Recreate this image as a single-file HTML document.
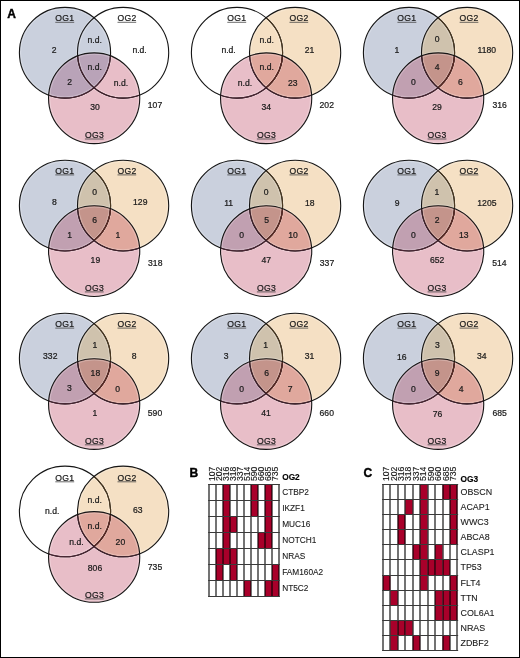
<!DOCTYPE html>
<html><head><meta charset="utf-8"><style>
html,body{margin:0;padding:0;background:#fff;}
body{width:520px;height:658px;overflow:hidden;}
svg{display:block;will-change:transform;}
text{font-family:"Liberation Sans",sans-serif;fill:#1a1a1a;}
.v{font-size:8.6px;text-anchor:middle;stroke:#1a1a1a;stroke-width:0.22px;}
.lb{letter-spacing:0.3px;}
.g{font-size:8.3px;stroke:#1a1a1a;stroke-width:0.1px;}
.h{font-size:8.3px;font-weight:bold;fill:#000;stroke:#000;stroke-width:0.15px;}
.cl{font-size:8.6px;stroke:#1a1a1a;stroke-width:0.15px;}
.L{font-size:12px;font-weight:bold;fill:#000;stroke:#000;stroke-width:0.4px;}
</style></head><body>
<svg width="520" height="658" viewBox="0 0 520 658">
<rect x="0" y="0" width="520" height="658" fill="#fff"/>
<defs>
<clipPath id="v00c1"><ellipse cx="65.00" cy="52.75" rx="45.6" ry="45.35"/></clipPath>
<clipPath id="v00c2"><ellipse cx="123.10" cy="52.75" rx="45.6" ry="45.35"/></clipPath>
<clipPath id="v00c3"><ellipse cx="94.15" cy="98.25" rx="45.6" ry="45.35"/></clipPath>
<clipPath id="v00c12" clip-path="url(#v00c1)"><ellipse cx="123.10" cy="52.75" rx="45.6" ry="45.35"/></clipPath>
<clipPath id="v00c23" clip-path="url(#v00c2)"><ellipse cx="94.15" cy="98.25" rx="45.6" ry="45.35"/></clipPath>
</defs>
<ellipse cx="65.00" cy="52.75" rx="45.6" ry="45.35" fill="#cad0dd"/>
<ellipse cx="94.15" cy="98.25" rx="45.6" ry="45.35" fill="#e8bec8"/>
<ellipse cx="94.15" cy="98.25" rx="45.6" ry="45.35" fill="#b9a3b8" clip-path="url(#v00c1)"/>
<ellipse cx="94.15" cy="98.25" rx="45.6" ry="45.35" fill="#b9a3b8" clip-path="url(#v00c12)"/>
<ellipse cx="65.00" cy="52.75" rx="44.40" ry="44.15" fill="none" stroke="#fff" stroke-opacity="0.3" stroke-width="0.8"/>
<ellipse cx="65.00" cy="52.75" rx="46.80" ry="46.55" fill="none" stroke="#fff" stroke-opacity="0.3" stroke-width="0.8"/>
<ellipse cx="123.10" cy="52.75" rx="44.40" ry="44.15" fill="none" stroke="#fff" stroke-opacity="0.3" stroke-width="0.8"/>
<ellipse cx="123.10" cy="52.75" rx="46.80" ry="46.55" fill="none" stroke="#fff" stroke-opacity="0.3" stroke-width="0.8"/>
<ellipse cx="94.15" cy="98.25" rx="44.40" ry="44.15" fill="none" stroke="#fff" stroke-opacity="0.3" stroke-width="0.8"/>
<ellipse cx="94.15" cy="98.25" rx="46.80" ry="46.55" fill="none" stroke="#fff" stroke-opacity="0.3" stroke-width="0.8"/>
<ellipse cx="65.00" cy="52.75" rx="45.6" ry="45.35" fill="none" stroke="#151515" stroke-width="1.1"/>
<ellipse cx="65.00" cy="52.75" rx="45.6" ry="45.35" fill="none" stroke="#4a2432" stroke-width="1.1" clip-path="url(#v00c3)"/>
<ellipse cx="123.10" cy="52.75" rx="45.6" ry="45.35" fill="none" stroke="#151515" stroke-width="1.1"/>
<ellipse cx="123.10" cy="52.75" rx="45.6" ry="45.35" fill="none" stroke="#40202c" stroke-width="1.1" clip-path="url(#v00c3)"/>
<ellipse cx="94.15" cy="98.25" rx="45.6" ry="45.35" fill="none" stroke="#151515" stroke-width="1.1"/>
<text x="64.75" y="21.30" class="v lb">OG1</text>
<line x1="55.30" x2="74.20" y1="22.30" y2="22.30" stroke="#3a3a3a" stroke-width="0.75"/>
<text x="127.00" y="21.30" class="v lb">OG2</text>
<line x1="117.50" x2="136.20" y1="22.30" y2="22.30" stroke="#3a3a3a" stroke-width="0.75"/>
<text x="94.45" y="138.00" class="v lb">OG3</text>
<line x1="84.90" x2="103.70" y1="139.00" y2="139.00" stroke="#3a3a3a" stroke-width="0.75"/>
<text x="54.25" y="53.00" class="v">2</text>
<text x="94.75" y="42.50" class="v">n.d.</text>
<text x="139.60" y="53.00" class="v">n.d.</text>
<text x="94.75" y="70.00" class="v">n.d.</text>
<text x="69.75" y="85.00" class="v">2</text>
<text x="121.00" y="85.50" class="v">n.d.</text>
<text x="95.00" y="110.00" class="v">30</text>
<text x="155.00" y="108.00" class="v">107</text>
<defs>
<clipPath id="v01c1"><ellipse cx="237.00" cy="52.75" rx="45.6" ry="45.35"/></clipPath>
<clipPath id="v01c2"><ellipse cx="295.10" cy="52.75" rx="45.6" ry="45.35"/></clipPath>
<clipPath id="v01c3"><ellipse cx="266.15" cy="98.25" rx="45.6" ry="45.35"/></clipPath>
<clipPath id="v01c12" clip-path="url(#v01c1)"><ellipse cx="295.10" cy="52.75" rx="45.6" ry="45.35"/></clipPath>
<clipPath id="v01c23" clip-path="url(#v01c2)"><ellipse cx="266.15" cy="98.25" rx="45.6" ry="45.35"/></clipPath>
</defs>
<ellipse cx="295.10" cy="52.75" rx="45.6" ry="45.35" fill="#f5e0c4"/>
<ellipse cx="266.15" cy="98.25" rx="45.6" ry="45.35" fill="#e8bec8"/>
<ellipse cx="266.15" cy="98.25" rx="45.6" ry="45.35" fill="#e0a89d" clip-path="url(#v01c2)"/>
<ellipse cx="266.15" cy="98.25" rx="45.6" ry="45.35" fill="#e0a89d" clip-path="url(#v01c12)"/>
<ellipse cx="237.00" cy="52.75" rx="44.40" ry="44.15" fill="none" stroke="#fff" stroke-opacity="0.3" stroke-width="0.8"/>
<ellipse cx="237.00" cy="52.75" rx="46.80" ry="46.55" fill="none" stroke="#fff" stroke-opacity="0.3" stroke-width="0.8"/>
<ellipse cx="295.10" cy="52.75" rx="44.40" ry="44.15" fill="none" stroke="#fff" stroke-opacity="0.3" stroke-width="0.8"/>
<ellipse cx="295.10" cy="52.75" rx="46.80" ry="46.55" fill="none" stroke="#fff" stroke-opacity="0.3" stroke-width="0.8"/>
<ellipse cx="266.15" cy="98.25" rx="44.40" ry="44.15" fill="none" stroke="#fff" stroke-opacity="0.3" stroke-width="0.8"/>
<ellipse cx="266.15" cy="98.25" rx="46.80" ry="46.55" fill="none" stroke="#fff" stroke-opacity="0.3" stroke-width="0.8"/>
<ellipse cx="237.00" cy="52.75" rx="45.6" ry="45.35" fill="none" stroke="#151515" stroke-width="1.1"/>
<ellipse cx="237.00" cy="52.75" rx="45.6" ry="45.35" fill="none" stroke="#4a3820" stroke-width="1.1" clip-path="url(#v01c2)"/>
<ellipse cx="237.00" cy="52.75" rx="45.6" ry="45.35" fill="none" stroke="#4a2432" stroke-width="1.1" clip-path="url(#v01c3)"/>
<ellipse cx="237.00" cy="52.75" rx="45.6" ry="45.35" fill="none" stroke="#5a2a22" stroke-width="1.1" clip-path="url(#v01c23)"/>
<ellipse cx="295.10" cy="52.75" rx="45.6" ry="45.35" fill="none" stroke="#151515" stroke-width="1.1"/>
<ellipse cx="295.10" cy="52.75" rx="45.6" ry="45.35" fill="none" stroke="#40202c" stroke-width="1.1" clip-path="url(#v01c3)"/>
<ellipse cx="266.15" cy="98.25" rx="45.6" ry="45.35" fill="none" stroke="#151515" stroke-width="1.1"/>
<text x="236.75" y="21.30" class="v lb">OG1</text>
<line x1="227.30" x2="246.20" y1="22.30" y2="22.30" stroke="#3a3a3a" stroke-width="0.75"/>
<text x="299.00" y="21.30" class="v lb">OG2</text>
<line x1="289.50" x2="308.20" y1="22.30" y2="22.30" stroke="#3a3a3a" stroke-width="0.75"/>
<text x="266.45" y="138.00" class="v lb">OG3</text>
<line x1="256.90" x2="275.70" y1="139.00" y2="139.00" stroke="#3a3a3a" stroke-width="0.75"/>
<text x="228.60" y="53.00" class="v">n.d.</text>
<text x="266.75" y="42.50" class="v">n.d.</text>
<text x="309.50" y="52.50" class="v">21</text>
<text x="266.75" y="70.00" class="v">n.d.</text>
<text x="244.90" y="85.50" class="v">n.d.</text>
<text x="292.75" y="85.50" class="v">23</text>
<text x="266.25" y="110.00" class="v">34</text>
<text x="326.75" y="108.00" class="v">202</text>
<defs>
<clipPath id="v02c1"><ellipse cx="409.00" cy="52.75" rx="45.6" ry="45.35"/></clipPath>
<clipPath id="v02c2"><ellipse cx="467.10" cy="52.75" rx="45.6" ry="45.35"/></clipPath>
<clipPath id="v02c3"><ellipse cx="438.15" cy="98.25" rx="45.6" ry="45.35"/></clipPath>
<clipPath id="v02c12" clip-path="url(#v02c1)"><ellipse cx="467.10" cy="52.75" rx="45.6" ry="45.35"/></clipPath>
<clipPath id="v02c23" clip-path="url(#v02c2)"><ellipse cx="438.15" cy="98.25" rx="45.6" ry="45.35"/></clipPath>
</defs>
<ellipse cx="409.00" cy="52.75" rx="45.6" ry="45.35" fill="#cad0dd"/>
<ellipse cx="467.10" cy="52.75" rx="45.6" ry="45.35" fill="#f5e0c4"/>
<ellipse cx="438.15" cy="98.25" rx="45.6" ry="45.35" fill="#e8bec8"/>
<ellipse cx="467.10" cy="52.75" rx="45.6" ry="45.35" fill="#cfc2ad" clip-path="url(#v02c1)"/>
<ellipse cx="438.15" cy="98.25" rx="45.6" ry="45.35" fill="#c1a0b1" clip-path="url(#v02c1)"/>
<ellipse cx="438.15" cy="98.25" rx="45.6" ry="45.35" fill="#e0a89d" clip-path="url(#v02c2)"/>
<ellipse cx="438.15" cy="98.25" rx="45.6" ry="45.35" fill="#c4948b" clip-path="url(#v02c12)"/>
<ellipse cx="409.00" cy="52.75" rx="44.40" ry="44.15" fill="none" stroke="#fff" stroke-opacity="0.3" stroke-width="0.8"/>
<ellipse cx="409.00" cy="52.75" rx="46.80" ry="46.55" fill="none" stroke="#fff" stroke-opacity="0.3" stroke-width="0.8"/>
<ellipse cx="467.10" cy="52.75" rx="44.40" ry="44.15" fill="none" stroke="#fff" stroke-opacity="0.3" stroke-width="0.8"/>
<ellipse cx="467.10" cy="52.75" rx="46.80" ry="46.55" fill="none" stroke="#fff" stroke-opacity="0.3" stroke-width="0.8"/>
<ellipse cx="438.15" cy="98.25" rx="44.40" ry="44.15" fill="none" stroke="#fff" stroke-opacity="0.3" stroke-width="0.8"/>
<ellipse cx="438.15" cy="98.25" rx="46.80" ry="46.55" fill="none" stroke="#fff" stroke-opacity="0.3" stroke-width="0.8"/>
<ellipse cx="409.00" cy="52.75" rx="45.6" ry="45.35" fill="none" stroke="#151515" stroke-width="1.1"/>
<ellipse cx="409.00" cy="52.75" rx="45.6" ry="45.35" fill="none" stroke="#4a3820" stroke-width="1.1" clip-path="url(#v02c2)"/>
<ellipse cx="409.00" cy="52.75" rx="45.6" ry="45.35" fill="none" stroke="#4a2432" stroke-width="1.1" clip-path="url(#v02c3)"/>
<ellipse cx="409.00" cy="52.75" rx="45.6" ry="45.35" fill="none" stroke="#5a2a22" stroke-width="1.1" clip-path="url(#v02c23)"/>
<ellipse cx="467.10" cy="52.75" rx="45.6" ry="45.35" fill="none" stroke="#151515" stroke-width="1.1"/>
<ellipse cx="467.10" cy="52.75" rx="45.6" ry="45.35" fill="none" stroke="#40202c" stroke-width="1.1" clip-path="url(#v02c3)"/>
<ellipse cx="438.15" cy="98.25" rx="45.6" ry="45.35" fill="none" stroke="#151515" stroke-width="1.1"/>
<text x="406.90" y="21.30" class="v lb">OG1</text>
<line x1="397.45" x2="416.35" y1="22.30" y2="22.30" stroke="#3a3a3a" stroke-width="0.75"/>
<text x="469.15" y="21.30" class="v lb">OG2</text>
<line x1="459.65" x2="478.35" y1="22.30" y2="22.30" stroke="#3a3a3a" stroke-width="0.75"/>
<text x="437.15" y="138.00" class="v lb">OG3</text>
<line x1="427.60" x2="446.40" y1="139.00" y2="139.00" stroke="#3a3a3a" stroke-width="0.75"/>
<text x="396.90" y="53.00" class="v">1</text>
<text x="437.25" y="42.00" class="v">0</text>
<text x="486.75" y="52.50" class="v">1180</text>
<text x="437.25" y="69.50" class="v">4</text>
<text x="413.40" y="85.00" class="v">0</text>
<text x="460.50" y="85.00" class="v">6</text>
<text x="437.00" y="110.00" class="v">29</text>
<text x="499.60" y="108.00" class="v">316</text>
<defs>
<clipPath id="v10c1"><ellipse cx="65.00" cy="205.65" rx="45.6" ry="45.35"/></clipPath>
<clipPath id="v10c2"><ellipse cx="123.10" cy="205.65" rx="45.6" ry="45.35"/></clipPath>
<clipPath id="v10c3"><ellipse cx="94.15" cy="251.15" rx="45.6" ry="45.35"/></clipPath>
<clipPath id="v10c12" clip-path="url(#v10c1)"><ellipse cx="123.10" cy="205.65" rx="45.6" ry="45.35"/></clipPath>
<clipPath id="v10c23" clip-path="url(#v10c2)"><ellipse cx="94.15" cy="251.15" rx="45.6" ry="45.35"/></clipPath>
</defs>
<ellipse cx="65.00" cy="205.65" rx="45.6" ry="45.35" fill="#cad0dd"/>
<ellipse cx="123.10" cy="205.65" rx="45.6" ry="45.35" fill="#f5e0c4"/>
<ellipse cx="94.15" cy="251.15" rx="45.6" ry="45.35" fill="#e8bec8"/>
<ellipse cx="123.10" cy="205.65" rx="45.6" ry="45.35" fill="#cfc2ad" clip-path="url(#v10c1)"/>
<ellipse cx="94.15" cy="251.15" rx="45.6" ry="45.35" fill="#c1a0b1" clip-path="url(#v10c1)"/>
<ellipse cx="94.15" cy="251.15" rx="45.6" ry="45.35" fill="#e0a89d" clip-path="url(#v10c2)"/>
<ellipse cx="94.15" cy="251.15" rx="45.6" ry="45.35" fill="#c4948b" clip-path="url(#v10c12)"/>
<ellipse cx="65.00" cy="205.65" rx="44.40" ry="44.15" fill="none" stroke="#fff" stroke-opacity="0.3" stroke-width="0.8"/>
<ellipse cx="65.00" cy="205.65" rx="46.80" ry="46.55" fill="none" stroke="#fff" stroke-opacity="0.3" stroke-width="0.8"/>
<ellipse cx="123.10" cy="205.65" rx="44.40" ry="44.15" fill="none" stroke="#fff" stroke-opacity="0.3" stroke-width="0.8"/>
<ellipse cx="123.10" cy="205.65" rx="46.80" ry="46.55" fill="none" stroke="#fff" stroke-opacity="0.3" stroke-width="0.8"/>
<ellipse cx="94.15" cy="251.15" rx="44.40" ry="44.15" fill="none" stroke="#fff" stroke-opacity="0.3" stroke-width="0.8"/>
<ellipse cx="94.15" cy="251.15" rx="46.80" ry="46.55" fill="none" stroke="#fff" stroke-opacity="0.3" stroke-width="0.8"/>
<ellipse cx="65.00" cy="205.65" rx="45.6" ry="45.35" fill="none" stroke="#151515" stroke-width="1.1"/>
<ellipse cx="65.00" cy="205.65" rx="45.6" ry="45.35" fill="none" stroke="#4a3820" stroke-width="1.1" clip-path="url(#v10c2)"/>
<ellipse cx="65.00" cy="205.65" rx="45.6" ry="45.35" fill="none" stroke="#4a2432" stroke-width="1.1" clip-path="url(#v10c3)"/>
<ellipse cx="65.00" cy="205.65" rx="45.6" ry="45.35" fill="none" stroke="#5a2a22" stroke-width="1.1" clip-path="url(#v10c23)"/>
<ellipse cx="123.10" cy="205.65" rx="45.6" ry="45.35" fill="none" stroke="#151515" stroke-width="1.1"/>
<ellipse cx="123.10" cy="205.65" rx="45.6" ry="45.35" fill="none" stroke="#40202c" stroke-width="1.1" clip-path="url(#v10c3)"/>
<ellipse cx="94.15" cy="251.15" rx="45.6" ry="45.35" fill="none" stroke="#151515" stroke-width="1.1"/>
<text x="64.75" y="173.90" class="v lb">OG1</text>
<line x1="55.30" x2="74.20" y1="174.90" y2="174.90" stroke="#3a3a3a" stroke-width="0.75"/>
<text x="127.00" y="173.90" class="v lb">OG2</text>
<line x1="117.50" x2="136.20" y1="174.90" y2="174.90" stroke="#3a3a3a" stroke-width="0.75"/>
<text x="94.45" y="290.90" class="v lb">OG3</text>
<line x1="84.90" x2="103.70" y1="291.90" y2="291.90" stroke="#3a3a3a" stroke-width="0.75"/>
<text x="54.40" y="205.00" class="v">8</text>
<text x="94.75" y="194.50" class="v">0</text>
<text x="140.25" y="205.00" class="v">129</text>
<text x="94.75" y="222.50" class="v">6</text>
<text x="69.75" y="237.50" class="v">1</text>
<text x="117.90" y="237.50" class="v">1</text>
<text x="95.40" y="263.00" class="v">19</text>
<text x="155.25" y="266.00" class="v">318</text>
<defs>
<clipPath id="v11c1"><ellipse cx="237.00" cy="205.65" rx="45.6" ry="45.35"/></clipPath>
<clipPath id="v11c2"><ellipse cx="295.10" cy="205.65" rx="45.6" ry="45.35"/></clipPath>
<clipPath id="v11c3"><ellipse cx="266.15" cy="251.15" rx="45.6" ry="45.35"/></clipPath>
<clipPath id="v11c12" clip-path="url(#v11c1)"><ellipse cx="295.10" cy="205.65" rx="45.6" ry="45.35"/></clipPath>
<clipPath id="v11c23" clip-path="url(#v11c2)"><ellipse cx="266.15" cy="251.15" rx="45.6" ry="45.35"/></clipPath>
</defs>
<ellipse cx="237.00" cy="205.65" rx="45.6" ry="45.35" fill="#cad0dd"/>
<ellipse cx="295.10" cy="205.65" rx="45.6" ry="45.35" fill="#f5e0c4"/>
<ellipse cx="266.15" cy="251.15" rx="45.6" ry="45.35" fill="#e8bec8"/>
<ellipse cx="295.10" cy="205.65" rx="45.6" ry="45.35" fill="#cfc2ad" clip-path="url(#v11c1)"/>
<ellipse cx="266.15" cy="251.15" rx="45.6" ry="45.35" fill="#c1a0b1" clip-path="url(#v11c1)"/>
<ellipse cx="266.15" cy="251.15" rx="45.6" ry="45.35" fill="#e0a89d" clip-path="url(#v11c2)"/>
<ellipse cx="266.15" cy="251.15" rx="45.6" ry="45.35" fill="#c4948b" clip-path="url(#v11c12)"/>
<ellipse cx="237.00" cy="205.65" rx="44.40" ry="44.15" fill="none" stroke="#fff" stroke-opacity="0.3" stroke-width="0.8"/>
<ellipse cx="237.00" cy="205.65" rx="46.80" ry="46.55" fill="none" stroke="#fff" stroke-opacity="0.3" stroke-width="0.8"/>
<ellipse cx="295.10" cy="205.65" rx="44.40" ry="44.15" fill="none" stroke="#fff" stroke-opacity="0.3" stroke-width="0.8"/>
<ellipse cx="295.10" cy="205.65" rx="46.80" ry="46.55" fill="none" stroke="#fff" stroke-opacity="0.3" stroke-width="0.8"/>
<ellipse cx="266.15" cy="251.15" rx="44.40" ry="44.15" fill="none" stroke="#fff" stroke-opacity="0.3" stroke-width="0.8"/>
<ellipse cx="266.15" cy="251.15" rx="46.80" ry="46.55" fill="none" stroke="#fff" stroke-opacity="0.3" stroke-width="0.8"/>
<ellipse cx="237.00" cy="205.65" rx="45.6" ry="45.35" fill="none" stroke="#151515" stroke-width="1.1"/>
<ellipse cx="237.00" cy="205.65" rx="45.6" ry="45.35" fill="none" stroke="#4a3820" stroke-width="1.1" clip-path="url(#v11c2)"/>
<ellipse cx="237.00" cy="205.65" rx="45.6" ry="45.35" fill="none" stroke="#4a2432" stroke-width="1.1" clip-path="url(#v11c3)"/>
<ellipse cx="237.00" cy="205.65" rx="45.6" ry="45.35" fill="none" stroke="#5a2a22" stroke-width="1.1" clip-path="url(#v11c23)"/>
<ellipse cx="295.10" cy="205.65" rx="45.6" ry="45.35" fill="none" stroke="#151515" stroke-width="1.1"/>
<ellipse cx="295.10" cy="205.65" rx="45.6" ry="45.35" fill="none" stroke="#40202c" stroke-width="1.1" clip-path="url(#v11c3)"/>
<ellipse cx="266.15" cy="251.15" rx="45.6" ry="45.35" fill="none" stroke="#151515" stroke-width="1.1"/>
<text x="236.75" y="173.90" class="v lb">OG1</text>
<line x1="227.30" x2="246.20" y1="174.90" y2="174.90" stroke="#3a3a3a" stroke-width="0.75"/>
<text x="299.00" y="173.90" class="v lb">OG2</text>
<line x1="289.50" x2="308.20" y1="174.90" y2="174.90" stroke="#3a3a3a" stroke-width="0.75"/>
<text x="266.45" y="290.90" class="v lb">OG3</text>
<line x1="256.90" x2="275.70" y1="291.90" y2="291.90" stroke="#3a3a3a" stroke-width="0.75"/>
<text x="228.60" y="206.00" class="v">11</text>
<text x="266.10" y="194.50" class="v">0</text>
<text x="309.75" y="205.50" class="v">18</text>
<text x="266.75" y="222.50" class="v">5</text>
<text x="241.75" y="238.00" class="v">0</text>
<text x="293.00" y="238.00" class="v">10</text>
<text x="266.25" y="262.50" class="v">47</text>
<text x="327.00" y="266.00" class="v">337</text>
<defs>
<clipPath id="v12c1"><ellipse cx="409.00" cy="205.65" rx="45.6" ry="45.35"/></clipPath>
<clipPath id="v12c2"><ellipse cx="467.10" cy="205.65" rx="45.6" ry="45.35"/></clipPath>
<clipPath id="v12c3"><ellipse cx="438.15" cy="251.15" rx="45.6" ry="45.35"/></clipPath>
<clipPath id="v12c12" clip-path="url(#v12c1)"><ellipse cx="467.10" cy="205.65" rx="45.6" ry="45.35"/></clipPath>
<clipPath id="v12c23" clip-path="url(#v12c2)"><ellipse cx="438.15" cy="251.15" rx="45.6" ry="45.35"/></clipPath>
</defs>
<ellipse cx="409.00" cy="205.65" rx="45.6" ry="45.35" fill="#cad0dd"/>
<ellipse cx="467.10" cy="205.65" rx="45.6" ry="45.35" fill="#f5e0c4"/>
<ellipse cx="438.15" cy="251.15" rx="45.6" ry="45.35" fill="#e8bec8"/>
<ellipse cx="467.10" cy="205.65" rx="45.6" ry="45.35" fill="#cfc2ad" clip-path="url(#v12c1)"/>
<ellipse cx="438.15" cy="251.15" rx="45.6" ry="45.35" fill="#c1a0b1" clip-path="url(#v12c1)"/>
<ellipse cx="438.15" cy="251.15" rx="45.6" ry="45.35" fill="#e0a89d" clip-path="url(#v12c2)"/>
<ellipse cx="438.15" cy="251.15" rx="45.6" ry="45.35" fill="#c4948b" clip-path="url(#v12c12)"/>
<ellipse cx="409.00" cy="205.65" rx="44.40" ry="44.15" fill="none" stroke="#fff" stroke-opacity="0.3" stroke-width="0.8"/>
<ellipse cx="409.00" cy="205.65" rx="46.80" ry="46.55" fill="none" stroke="#fff" stroke-opacity="0.3" stroke-width="0.8"/>
<ellipse cx="467.10" cy="205.65" rx="44.40" ry="44.15" fill="none" stroke="#fff" stroke-opacity="0.3" stroke-width="0.8"/>
<ellipse cx="467.10" cy="205.65" rx="46.80" ry="46.55" fill="none" stroke="#fff" stroke-opacity="0.3" stroke-width="0.8"/>
<ellipse cx="438.15" cy="251.15" rx="44.40" ry="44.15" fill="none" stroke="#fff" stroke-opacity="0.3" stroke-width="0.8"/>
<ellipse cx="438.15" cy="251.15" rx="46.80" ry="46.55" fill="none" stroke="#fff" stroke-opacity="0.3" stroke-width="0.8"/>
<ellipse cx="409.00" cy="205.65" rx="45.6" ry="45.35" fill="none" stroke="#151515" stroke-width="1.1"/>
<ellipse cx="409.00" cy="205.65" rx="45.6" ry="45.35" fill="none" stroke="#4a3820" stroke-width="1.1" clip-path="url(#v12c2)"/>
<ellipse cx="409.00" cy="205.65" rx="45.6" ry="45.35" fill="none" stroke="#4a2432" stroke-width="1.1" clip-path="url(#v12c3)"/>
<ellipse cx="409.00" cy="205.65" rx="45.6" ry="45.35" fill="none" stroke="#5a2a22" stroke-width="1.1" clip-path="url(#v12c23)"/>
<ellipse cx="467.10" cy="205.65" rx="45.6" ry="45.35" fill="none" stroke="#151515" stroke-width="1.1"/>
<ellipse cx="467.10" cy="205.65" rx="45.6" ry="45.35" fill="none" stroke="#40202c" stroke-width="1.1" clip-path="url(#v12c3)"/>
<ellipse cx="438.15" cy="251.15" rx="45.6" ry="45.35" fill="none" stroke="#151515" stroke-width="1.1"/>
<text x="406.90" y="173.90" class="v lb">OG1</text>
<line x1="397.45" x2="416.35" y1="174.90" y2="174.90" stroke="#3a3a3a" stroke-width="0.75"/>
<text x="469.15" y="173.90" class="v lb">OG2</text>
<line x1="459.65" x2="478.35" y1="174.90" y2="174.90" stroke="#3a3a3a" stroke-width="0.75"/>
<text x="437.15" y="290.90" class="v lb">OG3</text>
<line x1="427.60" x2="446.40" y1="291.90" y2="291.90" stroke="#3a3a3a" stroke-width="0.75"/>
<text x="397.10" y="206.00" class="v">9</text>
<text x="436.90" y="194.50" class="v">1</text>
<text x="486.90" y="205.50" class="v">1205</text>
<text x="437.10" y="222.50" class="v">2</text>
<text x="413.40" y="238.00" class="v">0</text>
<text x="463.75" y="238.00" class="v">13</text>
<text x="437.10" y="263.00" class="v">652</text>
<text x="499.40" y="266.00" class="v">514</text>
<defs>
<clipPath id="v20c1"><ellipse cx="65.00" cy="358.55" rx="45.6" ry="45.35"/></clipPath>
<clipPath id="v20c2"><ellipse cx="123.10" cy="358.55" rx="45.6" ry="45.35"/></clipPath>
<clipPath id="v20c3"><ellipse cx="94.15" cy="404.05" rx="45.6" ry="45.35"/></clipPath>
<clipPath id="v20c12" clip-path="url(#v20c1)"><ellipse cx="123.10" cy="358.55" rx="45.6" ry="45.35"/></clipPath>
<clipPath id="v20c23" clip-path="url(#v20c2)"><ellipse cx="94.15" cy="404.05" rx="45.6" ry="45.35"/></clipPath>
</defs>
<ellipse cx="65.00" cy="358.55" rx="45.6" ry="45.35" fill="#cad0dd"/>
<ellipse cx="123.10" cy="358.55" rx="45.6" ry="45.35" fill="#f5e0c4"/>
<ellipse cx="94.15" cy="404.05" rx="45.6" ry="45.35" fill="#e8bec8"/>
<ellipse cx="123.10" cy="358.55" rx="45.6" ry="45.35" fill="#cfc2ad" clip-path="url(#v20c1)"/>
<ellipse cx="94.15" cy="404.05" rx="45.6" ry="45.35" fill="#c1a0b1" clip-path="url(#v20c1)"/>
<ellipse cx="94.15" cy="404.05" rx="45.6" ry="45.35" fill="#e0a89d" clip-path="url(#v20c2)"/>
<ellipse cx="94.15" cy="404.05" rx="45.6" ry="45.35" fill="#c4948b" clip-path="url(#v20c12)"/>
<ellipse cx="65.00" cy="358.55" rx="44.40" ry="44.15" fill="none" stroke="#fff" stroke-opacity="0.3" stroke-width="0.8"/>
<ellipse cx="65.00" cy="358.55" rx="46.80" ry="46.55" fill="none" stroke="#fff" stroke-opacity="0.3" stroke-width="0.8"/>
<ellipse cx="123.10" cy="358.55" rx="44.40" ry="44.15" fill="none" stroke="#fff" stroke-opacity="0.3" stroke-width="0.8"/>
<ellipse cx="123.10" cy="358.55" rx="46.80" ry="46.55" fill="none" stroke="#fff" stroke-opacity="0.3" stroke-width="0.8"/>
<ellipse cx="94.15" cy="404.05" rx="44.40" ry="44.15" fill="none" stroke="#fff" stroke-opacity="0.3" stroke-width="0.8"/>
<ellipse cx="94.15" cy="404.05" rx="46.80" ry="46.55" fill="none" stroke="#fff" stroke-opacity="0.3" stroke-width="0.8"/>
<ellipse cx="65.00" cy="358.55" rx="45.6" ry="45.35" fill="none" stroke="#151515" stroke-width="1.1"/>
<ellipse cx="65.00" cy="358.55" rx="45.6" ry="45.35" fill="none" stroke="#4a3820" stroke-width="1.1" clip-path="url(#v20c2)"/>
<ellipse cx="65.00" cy="358.55" rx="45.6" ry="45.35" fill="none" stroke="#4a2432" stroke-width="1.1" clip-path="url(#v20c3)"/>
<ellipse cx="65.00" cy="358.55" rx="45.6" ry="45.35" fill="none" stroke="#5a2a22" stroke-width="1.1" clip-path="url(#v20c23)"/>
<ellipse cx="123.10" cy="358.55" rx="45.6" ry="45.35" fill="none" stroke="#151515" stroke-width="1.1"/>
<ellipse cx="123.10" cy="358.55" rx="45.6" ry="45.35" fill="none" stroke="#40202c" stroke-width="1.1" clip-path="url(#v20c3)"/>
<ellipse cx="94.15" cy="404.05" rx="45.6" ry="45.35" fill="none" stroke="#151515" stroke-width="1.1"/>
<text x="64.75" y="327.10" class="v lb">OG1</text>
<line x1="55.30" x2="74.20" y1="328.10" y2="328.10" stroke="#3a3a3a" stroke-width="0.75"/>
<text x="127.00" y="327.10" class="v lb">OG2</text>
<line x1="117.50" x2="136.20" y1="328.10" y2="328.10" stroke="#3a3a3a" stroke-width="0.75"/>
<text x="94.45" y="443.80" class="v lb">OG3</text>
<line x1="84.90" x2="103.70" y1="444.80" y2="444.80" stroke="#3a3a3a" stroke-width="0.75"/>
<text x="50.25" y="359.00" class="v">332</text>
<text x="94.90" y="348.00" class="v">1</text>
<text x="134.25" y="359.00" class="v">8</text>
<text x="95.40" y="376.00" class="v">18</text>
<text x="69.50" y="391.00" class="v">3</text>
<text x="117.75" y="391.50" class="v">0</text>
<text x="94.90" y="416.00" class="v">1</text>
<text x="155.00" y="415.50" class="v">590</text>
<defs>
<clipPath id="v21c1"><ellipse cx="237.00" cy="358.55" rx="45.6" ry="45.35"/></clipPath>
<clipPath id="v21c2"><ellipse cx="295.10" cy="358.55" rx="45.6" ry="45.35"/></clipPath>
<clipPath id="v21c3"><ellipse cx="266.15" cy="404.05" rx="45.6" ry="45.35"/></clipPath>
<clipPath id="v21c12" clip-path="url(#v21c1)"><ellipse cx="295.10" cy="358.55" rx="45.6" ry="45.35"/></clipPath>
<clipPath id="v21c23" clip-path="url(#v21c2)"><ellipse cx="266.15" cy="404.05" rx="45.6" ry="45.35"/></clipPath>
</defs>
<ellipse cx="237.00" cy="358.55" rx="45.6" ry="45.35" fill="#cad0dd"/>
<ellipse cx="295.10" cy="358.55" rx="45.6" ry="45.35" fill="#f5e0c4"/>
<ellipse cx="266.15" cy="404.05" rx="45.6" ry="45.35" fill="#e8bec8"/>
<ellipse cx="295.10" cy="358.55" rx="45.6" ry="45.35" fill="#cfc2ad" clip-path="url(#v21c1)"/>
<ellipse cx="266.15" cy="404.05" rx="45.6" ry="45.35" fill="#c1a0b1" clip-path="url(#v21c1)"/>
<ellipse cx="266.15" cy="404.05" rx="45.6" ry="45.35" fill="#e0a89d" clip-path="url(#v21c2)"/>
<ellipse cx="266.15" cy="404.05" rx="45.6" ry="45.35" fill="#c4948b" clip-path="url(#v21c12)"/>
<ellipse cx="237.00" cy="358.55" rx="44.40" ry="44.15" fill="none" stroke="#fff" stroke-opacity="0.3" stroke-width="0.8"/>
<ellipse cx="237.00" cy="358.55" rx="46.80" ry="46.55" fill="none" stroke="#fff" stroke-opacity="0.3" stroke-width="0.8"/>
<ellipse cx="295.10" cy="358.55" rx="44.40" ry="44.15" fill="none" stroke="#fff" stroke-opacity="0.3" stroke-width="0.8"/>
<ellipse cx="295.10" cy="358.55" rx="46.80" ry="46.55" fill="none" stroke="#fff" stroke-opacity="0.3" stroke-width="0.8"/>
<ellipse cx="266.15" cy="404.05" rx="44.40" ry="44.15" fill="none" stroke="#fff" stroke-opacity="0.3" stroke-width="0.8"/>
<ellipse cx="266.15" cy="404.05" rx="46.80" ry="46.55" fill="none" stroke="#fff" stroke-opacity="0.3" stroke-width="0.8"/>
<ellipse cx="237.00" cy="358.55" rx="45.6" ry="45.35" fill="none" stroke="#151515" stroke-width="1.1"/>
<ellipse cx="237.00" cy="358.55" rx="45.6" ry="45.35" fill="none" stroke="#4a3820" stroke-width="1.1" clip-path="url(#v21c2)"/>
<ellipse cx="237.00" cy="358.55" rx="45.6" ry="45.35" fill="none" stroke="#4a2432" stroke-width="1.1" clip-path="url(#v21c3)"/>
<ellipse cx="237.00" cy="358.55" rx="45.6" ry="45.35" fill="none" stroke="#5a2a22" stroke-width="1.1" clip-path="url(#v21c23)"/>
<ellipse cx="295.10" cy="358.55" rx="45.6" ry="45.35" fill="none" stroke="#151515" stroke-width="1.1"/>
<ellipse cx="295.10" cy="358.55" rx="45.6" ry="45.35" fill="none" stroke="#40202c" stroke-width="1.1" clip-path="url(#v21c3)"/>
<ellipse cx="266.15" cy="404.05" rx="45.6" ry="45.35" fill="none" stroke="#151515" stroke-width="1.1"/>
<text x="236.75" y="327.10" class="v lb">OG1</text>
<line x1="227.30" x2="246.20" y1="328.10" y2="328.10" stroke="#3a3a3a" stroke-width="0.75"/>
<text x="299.00" y="327.10" class="v lb">OG2</text>
<line x1="289.50" x2="308.20" y1="328.10" y2="328.10" stroke="#3a3a3a" stroke-width="0.75"/>
<text x="266.45" y="443.80" class="v lb">OG3</text>
<line x1="256.90" x2="275.70" y1="444.80" y2="444.80" stroke="#3a3a3a" stroke-width="0.75"/>
<text x="226.10" y="359.00" class="v">3</text>
<text x="265.75" y="348.00" class="v">1</text>
<text x="309.50" y="358.50" class="v">31</text>
<text x="266.75" y="376.00" class="v">6</text>
<text x="241.75" y="391.50" class="v">0</text>
<text x="290.10" y="391.50" class="v">7</text>
<text x="266.10" y="416.00" class="v">41</text>
<text x="326.75" y="416.00" class="v">660</text>
<defs>
<clipPath id="v22c1"><ellipse cx="409.00" cy="358.55" rx="45.6" ry="45.35"/></clipPath>
<clipPath id="v22c2"><ellipse cx="467.10" cy="358.55" rx="45.6" ry="45.35"/></clipPath>
<clipPath id="v22c3"><ellipse cx="438.15" cy="404.05" rx="45.6" ry="45.35"/></clipPath>
<clipPath id="v22c12" clip-path="url(#v22c1)"><ellipse cx="467.10" cy="358.55" rx="45.6" ry="45.35"/></clipPath>
<clipPath id="v22c23" clip-path="url(#v22c2)"><ellipse cx="438.15" cy="404.05" rx="45.6" ry="45.35"/></clipPath>
</defs>
<ellipse cx="409.00" cy="358.55" rx="45.6" ry="45.35" fill="#cad0dd"/>
<ellipse cx="467.10" cy="358.55" rx="45.6" ry="45.35" fill="#f5e0c4"/>
<ellipse cx="438.15" cy="404.05" rx="45.6" ry="45.35" fill="#e8bec8"/>
<ellipse cx="467.10" cy="358.55" rx="45.6" ry="45.35" fill="#cfc2ad" clip-path="url(#v22c1)"/>
<ellipse cx="438.15" cy="404.05" rx="45.6" ry="45.35" fill="#c1a0b1" clip-path="url(#v22c1)"/>
<ellipse cx="438.15" cy="404.05" rx="45.6" ry="45.35" fill="#e0a89d" clip-path="url(#v22c2)"/>
<ellipse cx="438.15" cy="404.05" rx="45.6" ry="45.35" fill="#c4948b" clip-path="url(#v22c12)"/>
<ellipse cx="409.00" cy="358.55" rx="44.40" ry="44.15" fill="none" stroke="#fff" stroke-opacity="0.3" stroke-width="0.8"/>
<ellipse cx="409.00" cy="358.55" rx="46.80" ry="46.55" fill="none" stroke="#fff" stroke-opacity="0.3" stroke-width="0.8"/>
<ellipse cx="467.10" cy="358.55" rx="44.40" ry="44.15" fill="none" stroke="#fff" stroke-opacity="0.3" stroke-width="0.8"/>
<ellipse cx="467.10" cy="358.55" rx="46.80" ry="46.55" fill="none" stroke="#fff" stroke-opacity="0.3" stroke-width="0.8"/>
<ellipse cx="438.15" cy="404.05" rx="44.40" ry="44.15" fill="none" stroke="#fff" stroke-opacity="0.3" stroke-width="0.8"/>
<ellipse cx="438.15" cy="404.05" rx="46.80" ry="46.55" fill="none" stroke="#fff" stroke-opacity="0.3" stroke-width="0.8"/>
<ellipse cx="409.00" cy="358.55" rx="45.6" ry="45.35" fill="none" stroke="#151515" stroke-width="1.1"/>
<ellipse cx="409.00" cy="358.55" rx="45.6" ry="45.35" fill="none" stroke="#4a3820" stroke-width="1.1" clip-path="url(#v22c2)"/>
<ellipse cx="409.00" cy="358.55" rx="45.6" ry="45.35" fill="none" stroke="#4a2432" stroke-width="1.1" clip-path="url(#v22c3)"/>
<ellipse cx="409.00" cy="358.55" rx="45.6" ry="45.35" fill="none" stroke="#5a2a22" stroke-width="1.1" clip-path="url(#v22c23)"/>
<ellipse cx="467.10" cy="358.55" rx="45.6" ry="45.35" fill="none" stroke="#151515" stroke-width="1.1"/>
<ellipse cx="467.10" cy="358.55" rx="45.6" ry="45.35" fill="none" stroke="#40202c" stroke-width="1.1" clip-path="url(#v22c3)"/>
<ellipse cx="438.15" cy="404.05" rx="45.6" ry="45.35" fill="none" stroke="#151515" stroke-width="1.1"/>
<text x="406.90" y="327.10" class="v lb">OG1</text>
<line x1="397.45" x2="416.35" y1="328.10" y2="328.10" stroke="#3a3a3a" stroke-width="0.75"/>
<text x="469.15" y="327.10" class="v lb">OG2</text>
<line x1="459.65" x2="478.35" y1="328.10" y2="328.10" stroke="#3a3a3a" stroke-width="0.75"/>
<text x="437.15" y="443.80" class="v lb">OG3</text>
<line x1="427.60" x2="446.40" y1="444.80" y2="444.80" stroke="#3a3a3a" stroke-width="0.75"/>
<text x="401.75" y="359.50" class="v">16</text>
<text x="437.50" y="348.00" class="v">3</text>
<text x="481.75" y="359.00" class="v">34</text>
<text x="437.10" y="376.00" class="v">9</text>
<text x="413.40" y="391.50" class="v">0</text>
<text x="461.25" y="391.50" class="v">4</text>
<text x="437.50" y="416.50" class="v">76</text>
<text x="499.60" y="415.50" class="v">685</text>
<defs>
<clipPath id="v30c1"><ellipse cx="65.00" cy="511.45" rx="45.6" ry="45.35"/></clipPath>
<clipPath id="v30c2"><ellipse cx="123.10" cy="511.45" rx="45.6" ry="45.35"/></clipPath>
<clipPath id="v30c3"><ellipse cx="94.15" cy="556.95" rx="45.6" ry="45.35"/></clipPath>
<clipPath id="v30c12" clip-path="url(#v30c1)"><ellipse cx="123.10" cy="511.45" rx="45.6" ry="45.35"/></clipPath>
<clipPath id="v30c23" clip-path="url(#v30c2)"><ellipse cx="94.15" cy="556.95" rx="45.6" ry="45.35"/></clipPath>
</defs>
<ellipse cx="123.10" cy="511.45" rx="45.6" ry="45.35" fill="#f5e0c4"/>
<ellipse cx="94.15" cy="556.95" rx="45.6" ry="45.35" fill="#e8bec8"/>
<ellipse cx="94.15" cy="556.95" rx="45.6" ry="45.35" fill="#e0a89d" clip-path="url(#v30c2)"/>
<ellipse cx="94.15" cy="556.95" rx="45.6" ry="45.35" fill="#e0a89d" clip-path="url(#v30c12)"/>
<ellipse cx="65.00" cy="511.45" rx="44.40" ry="44.15" fill="none" stroke="#fff" stroke-opacity="0.3" stroke-width="0.8"/>
<ellipse cx="65.00" cy="511.45" rx="46.80" ry="46.55" fill="none" stroke="#fff" stroke-opacity="0.3" stroke-width="0.8"/>
<ellipse cx="123.10" cy="511.45" rx="44.40" ry="44.15" fill="none" stroke="#fff" stroke-opacity="0.3" stroke-width="0.8"/>
<ellipse cx="123.10" cy="511.45" rx="46.80" ry="46.55" fill="none" stroke="#fff" stroke-opacity="0.3" stroke-width="0.8"/>
<ellipse cx="94.15" cy="556.95" rx="44.40" ry="44.15" fill="none" stroke="#fff" stroke-opacity="0.3" stroke-width="0.8"/>
<ellipse cx="94.15" cy="556.95" rx="46.80" ry="46.55" fill="none" stroke="#fff" stroke-opacity="0.3" stroke-width="0.8"/>
<ellipse cx="65.00" cy="511.45" rx="45.6" ry="45.35" fill="none" stroke="#151515" stroke-width="1.1"/>
<ellipse cx="65.00" cy="511.45" rx="45.6" ry="45.35" fill="none" stroke="#4a3820" stroke-width="1.1" clip-path="url(#v30c2)"/>
<ellipse cx="65.00" cy="511.45" rx="45.6" ry="45.35" fill="none" stroke="#4a2432" stroke-width="1.1" clip-path="url(#v30c3)"/>
<ellipse cx="65.00" cy="511.45" rx="45.6" ry="45.35" fill="none" stroke="#5a2a22" stroke-width="1.1" clip-path="url(#v30c23)"/>
<ellipse cx="123.10" cy="511.45" rx="45.6" ry="45.35" fill="none" stroke="#151515" stroke-width="1.1"/>
<ellipse cx="123.10" cy="511.45" rx="45.6" ry="45.35" fill="none" stroke="#40202c" stroke-width="1.1" clip-path="url(#v30c3)"/>
<ellipse cx="94.15" cy="556.95" rx="45.6" ry="45.35" fill="none" stroke="#151515" stroke-width="1.1"/>
<text x="64.75" y="480.80" class="v lb">OG1</text>
<line x1="55.30" x2="74.20" y1="481.80" y2="481.80" stroke="#3a3a3a" stroke-width="0.75"/>
<text x="127.00" y="480.80" class="v lb">OG2</text>
<line x1="117.50" x2="136.20" y1="481.80" y2="481.80" stroke="#3a3a3a" stroke-width="0.75"/>
<text x="94.45" y="597.90" class="v lb">OG3</text>
<line x1="84.90" x2="103.70" y1="598.90" y2="598.90" stroke="#3a3a3a" stroke-width="0.75"/>
<text x="52.25" y="513.50" class="v">n.d.</text>
<text x="94.75" y="502.75" class="v">n.d.</text>
<text x="137.75" y="512.75" class="v">63</text>
<text x="94.75" y="529.00" class="v">n.d.</text>
<text x="76.50" y="545.25" class="v">n.d.</text>
<text x="120.40" y="545.25" class="v">20</text>
<text x="95.00" y="571.00" class="v">806</text>
<text x="155.00" y="569.50" class="v">735</text>
<rect x="222.92" y="484" width="7.01" height="16" fill="#a8002a"/>
<rect x="250.96" y="484" width="7.01" height="16" fill="#a8002a"/>
<rect x="264.98" y="484" width="7.01" height="16" fill="#a8002a"/>
<text x="282.2" y="495.10" class="g" style="font-size:8.3px">CTBP2</text>
<rect x="222.92" y="500" width="7.01" height="16" fill="#a8002a"/>
<rect x="250.96" y="500" width="7.01" height="16" fill="#a8002a"/>
<rect x="264.98" y="500" width="7.01" height="16" fill="#a8002a"/>
<text x="282.2" y="511.10" class="g" style="font-size:8.3px">IKZF1</text>
<rect x="222.92" y="516" width="7.01" height="16" fill="#a8002a"/>
<rect x="229.93" y="516" width="7.01" height="16" fill="#a8002a"/>
<rect x="264.98" y="516" width="7.01" height="16" fill="#a8002a"/>
<text x="282.2" y="527.10" class="g" style="font-size:8.3px">MUC16</text>
<rect x="222.92" y="532" width="7.01" height="16" fill="#a8002a"/>
<rect x="257.97" y="532" width="7.01" height="16" fill="#a8002a"/>
<rect x="264.98" y="532" width="7.01" height="16" fill="#a8002a"/>
<text x="282.2" y="543.10" class="g" style="font-size:8.3px">NOTCH1</text>
<rect x="215.91" y="548" width="7.01" height="16" fill="#a8002a"/>
<rect x="222.92" y="548" width="7.01" height="16" fill="#a8002a"/>
<rect x="229.93" y="548" width="7.01" height="16" fill="#a8002a"/>
<text x="282.2" y="559.10" class="g" style="font-size:8.3px">NRAS</text>
<rect x="215.91" y="564" width="7.01" height="16" fill="#a8002a"/>
<rect x="229.93" y="564" width="7.01" height="16" fill="#a8002a"/>
<rect x="271.99" y="564" width="7.01" height="16" fill="#a8002a"/>
<text x="282.2" y="575.10" class="g" style="font-size:8.3px">FAM160A2</text>
<rect x="243.95" y="580" width="7.01" height="16" fill="#a8002a"/>
<rect x="264.98" y="580" width="7.01" height="16" fill="#a8002a"/>
<rect x="271.99" y="580" width="7.01" height="16" fill="#a8002a"/>
<text x="282.2" y="591.10" class="g" style="font-size:8.3px">NT5C2</text>
<rect x="208" y="484" width="2" height="113" fill="#000" fill-opacity="0.55"/>
<rect x="215" y="484" width="2" height="113" fill="#000" fill-opacity="0.55"/>
<rect x="222" y="484" width="2" height="113" fill="#000" fill-opacity="0.55"/>
<rect x="229" y="484" width="2" height="113" fill="#000" fill-opacity="0.55"/>
<rect x="236" y="484" width="2" height="113" fill="#000" fill-opacity="0.55"/>
<rect x="243" y="484" width="2" height="113" fill="#000" fill-opacity="0.55"/>
<rect x="250" y="484" width="2" height="113" fill="#000" fill-opacity="0.55"/>
<rect x="257" y="484" width="2" height="113" fill="#000" fill-opacity="0.55"/>
<rect x="264" y="484" width="2" height="113" fill="#000" fill-opacity="0.55"/>
<rect x="271" y="484" width="2" height="113" fill="#000" fill-opacity="0.55"/>
<rect x="278" y="484" width="2" height="113" fill="#000" fill-opacity="0.55"/>
<rect x="208.15" y="484" width="71.60" height="1" fill="#3a3a3a"/>
<rect x="208.15" y="500" width="71.60" height="1" fill="#3a3a3a"/>
<rect x="208.15" y="516" width="71.60" height="1" fill="#3a3a3a"/>
<rect x="208.15" y="532" width="71.60" height="1" fill="#3a3a3a"/>
<rect x="208.15" y="548" width="71.60" height="1" fill="#3a3a3a"/>
<rect x="208.15" y="564" width="71.60" height="1" fill="#3a3a3a"/>
<rect x="208.15" y="580" width="71.60" height="1" fill="#3a3a3a"/>
<rect x="208.15" y="596" width="71.60" height="1" fill="#3a3a3a"/>
<text x="282.2" y="479.5" class="h">OG2</text>
<text transform="translate(214.85,481.0) rotate(-90)" class="cl">107</text>
<text transform="translate(221.86,481.0) rotate(-90)" class="cl">202</text>
<text transform="translate(228.88,481.0) rotate(-90)" class="cl">316</text>
<text transform="translate(235.88,481.0) rotate(-90)" class="cl">318</text>
<text transform="translate(242.89,481.0) rotate(-90)" class="cl">337</text>
<text transform="translate(249.90,481.0) rotate(-90)" class="cl">514</text>
<text transform="translate(256.92,481.0) rotate(-90)" class="cl">590</text>
<text transform="translate(263.93,481.0) rotate(-90)" class="cl">660</text>
<text transform="translate(270.94,481.0) rotate(-90)" class="cl">685</text>
<text transform="translate(277.94,481.0) rotate(-90)" class="cl">735</text>
<rect x="420.15" y="484" width="7.45" height="15" fill="#a8002a"/>
<rect x="442.50" y="484" width="7.45" height="15" fill="#a8002a"/>
<rect x="449.95" y="484" width="7.45" height="15" fill="#a8002a"/>
<text x="460.5" y="494.60" class="g" style="font-size:8.9px">OBSCN</text>
<rect x="405.25" y="499" width="7.45" height="15" fill="#a8002a"/>
<rect x="420.15" y="499" width="7.45" height="15" fill="#a8002a"/>
<rect x="449.95" y="499" width="7.45" height="15" fill="#a8002a"/>
<text x="460.5" y="509.60" class="g" style="font-size:8.9px">ACAP1</text>
<rect x="397.80" y="514" width="7.45" height="15" fill="#a8002a"/>
<rect x="420.15" y="514" width="7.45" height="15" fill="#a8002a"/>
<rect x="449.95" y="514" width="7.45" height="15" fill="#a8002a"/>
<text x="460.5" y="524.60" class="g" style="font-size:8.9px">WWC3</text>
<rect x="397.80" y="529" width="7.45" height="15" fill="#a8002a"/>
<rect x="420.15" y="529" width="7.45" height="15" fill="#a8002a"/>
<rect x="449.95" y="529" width="7.45" height="15" fill="#a8002a"/>
<text x="460.5" y="539.60" class="g" style="font-size:8.9px">ABCA8</text>
<rect x="412.70" y="544" width="7.45" height="15" fill="#a8002a"/>
<rect x="420.15" y="544" width="7.45" height="15" fill="#a8002a"/>
<rect x="435.05" y="544" width="7.45" height="15" fill="#a8002a"/>
<text x="460.5" y="554.60" class="g" style="font-size:8.9px">CLASP1</text>
<rect x="420.15" y="559" width="7.45" height="16" fill="#a8002a"/>
<rect x="427.60" y="559" width="7.45" height="16" fill="#a8002a"/>
<rect x="435.05" y="559" width="7.45" height="16" fill="#a8002a"/>
<rect x="442.50" y="559" width="7.45" height="16" fill="#a8002a"/>
<text x="460.5" y="569.60" class="g" style="font-size:8.9px">TP53</text>
<rect x="382.90" y="575" width="7.45" height="15" fill="#a8002a"/>
<rect x="420.15" y="575" width="7.45" height="15" fill="#a8002a"/>
<rect x="449.95" y="575" width="7.45" height="15" fill="#a8002a"/>
<text x="460.5" y="585.60" class="g" style="font-size:8.9px">FLT4</text>
<rect x="390.35" y="590" width="7.45" height="15" fill="#a8002a"/>
<rect x="435.05" y="590" width="7.45" height="15" fill="#a8002a"/>
<rect x="442.50" y="590" width="7.45" height="15" fill="#a8002a"/>
<rect x="449.95" y="590" width="7.45" height="15" fill="#a8002a"/>
<text x="460.5" y="600.60" class="g" style="font-size:8.9px">TTN</text>
<rect x="435.05" y="605" width="7.45" height="15" fill="#a8002a"/>
<rect x="442.50" y="605" width="7.45" height="15" fill="#a8002a"/>
<rect x="449.95" y="605" width="7.45" height="15" fill="#a8002a"/>
<text x="460.5" y="615.60" class="g" style="font-size:8.9px">COL6A1</text>
<rect x="390.35" y="620" width="7.45" height="15" fill="#a8002a"/>
<rect x="397.80" y="620" width="7.45" height="15" fill="#a8002a"/>
<rect x="405.25" y="620" width="7.45" height="15" fill="#a8002a"/>
<text x="460.5" y="630.60" class="g" style="font-size:8.9px">NRAS</text>
<rect x="390.35" y="635" width="7.45" height="15" fill="#a8002a"/>
<rect x="412.70" y="635" width="7.45" height="15" fill="#a8002a"/>
<rect x="442.50" y="635" width="7.45" height="15" fill="#a8002a"/>
<text x="460.5" y="645.60" class="g" style="font-size:8.9px">ZDBF2</text>
<rect x="382" y="484" width="2" height="167" fill="#000" fill-opacity="0.55"/>
<rect x="389" y="484" width="2" height="167" fill="#000" fill-opacity="0.55"/>
<rect x="397" y="484" width="2" height="167" fill="#000" fill-opacity="0.55"/>
<rect x="404" y="484" width="2" height="167" fill="#000" fill-opacity="0.55"/>
<rect x="412" y="484" width="2" height="167" fill="#000" fill-opacity="0.55"/>
<rect x="419" y="484" width="2" height="167" fill="#000" fill-opacity="0.55"/>
<rect x="427" y="484" width="2" height="167" fill="#000" fill-opacity="0.55"/>
<rect x="434" y="484" width="2" height="167" fill="#000" fill-opacity="0.55"/>
<rect x="442" y="484" width="2" height="167" fill="#000" fill-opacity="0.55"/>
<rect x="449" y="484" width="2" height="167" fill="#000" fill-opacity="0.55"/>
<rect x="456" y="484" width="2" height="167" fill="#000" fill-opacity="0.55"/>
<rect x="382.15" y="484" width="76.00" height="1" fill="#3a3a3a"/>
<rect x="382.15" y="499" width="76.00" height="1" fill="#3a3a3a"/>
<rect x="382.15" y="514" width="76.00" height="1" fill="#3a3a3a"/>
<rect x="382.15" y="529" width="76.00" height="1" fill="#3a3a3a"/>
<rect x="382.15" y="544" width="76.00" height="1" fill="#3a3a3a"/>
<rect x="382.15" y="559" width="76.00" height="1" fill="#3a3a3a"/>
<rect x="382.15" y="575" width="76.00" height="1" fill="#3a3a3a"/>
<rect x="382.15" y="590" width="76.00" height="1" fill="#3a3a3a"/>
<rect x="382.15" y="605" width="76.00" height="1" fill="#3a3a3a"/>
<rect x="382.15" y="620" width="76.00" height="1" fill="#3a3a3a"/>
<rect x="382.15" y="635" width="76.00" height="1" fill="#3a3a3a"/>
<rect x="382.15" y="650" width="76.00" height="1" fill="#3a3a3a"/>
<text x="460.5" y="481.7" class="h">OG3</text>
<text transform="translate(389.07,481.0) rotate(-90)" class="cl">107</text>
<text transform="translate(396.52,481.0) rotate(-90)" class="cl">202</text>
<text transform="translate(403.97,481.0) rotate(-90)" class="cl">316</text>
<text transform="translate(411.43,481.0) rotate(-90)" class="cl">318</text>
<text transform="translate(418.88,481.0) rotate(-90)" class="cl">337</text>
<text transform="translate(426.32,481.0) rotate(-90)" class="cl">514</text>
<text transform="translate(433.77,481.0) rotate(-90)" class="cl">590</text>
<text transform="translate(441.22,481.0) rotate(-90)" class="cl">660</text>
<text transform="translate(448.68,481.0) rotate(-90)" class="cl">685</text>
<text transform="translate(456.12,481.0) rotate(-90)" class="cl">735</text>
<text x="7.3" y="17.6" class="L">A</text>
<text x="189.5" y="476.8" class="L">B</text>
<text x="363.5" y="476.8" class="L">C</text>
<rect x="0.5" y="0.5" width="519" height="657" fill="none" stroke="#000" stroke-width="1"/>
</svg>
</body></html>
